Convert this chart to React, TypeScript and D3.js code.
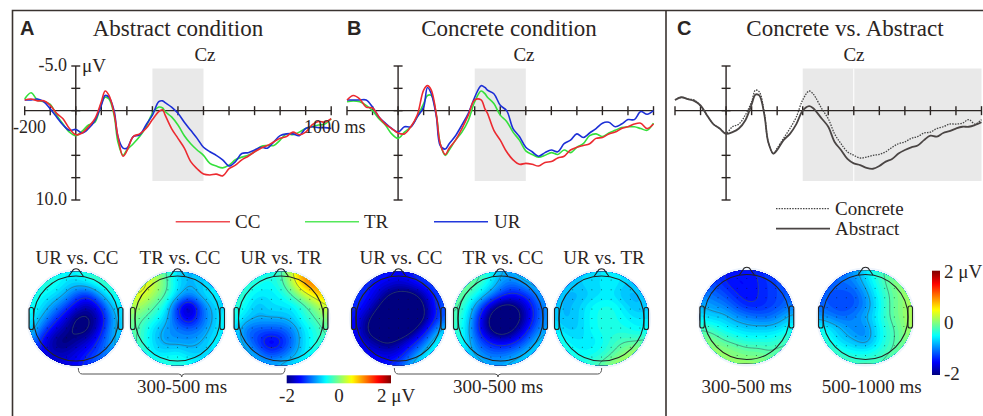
import { useMemo } from 'react';
import * as d3 from 'd3';

// time points (ms) of the Cz waveforms, denser around the early peaks
const times = [-200, -175, -150, -125, -100, -75, -50, -25, 0, 25, 50, 75, 100, 115, 130, 150, 165, 185, 200, 225, 250, 275, 300, 325, 340, 350, 375, 400, 425, 450, 475, 500, 525, 550, 575, 600, 625, 650, 675, 700, 725, 750, 775, 800, 825, 850, 875, 900, 925, 950, 975, 1000];

const abstractCC = [-1.2, -1.3, -1.1, -1.1, -0.6, 0.3, 0.9, 2.0, 2.7, 2.5, 1.8, 0.9, -1.0, -2.2, -1.7, 0.3, 2.9, 5.1, 4.5, 2.9, 2.6, 2.0, 1.0, 0.1, -0.1, 0.5, 2.0, 3.1, 4.2, 5.7, 6.5, 7.1, 7.2, 7.1, 7.3, 6.5, 6.1, 5.5, 5.1, 4.6, 4.2, 3.9, 3.5, 3.1, 2.9, 2.4, 2.7, 2.4, 1.6, 1.2, 1.3, 0.9];
const abstractTR = [-1.3, -2.0, -1.2, -1.0, -0.7, 0.5, 1.5, 2.4, 2.8, 2.3, 1.6, 1.3, -0.8, -1.5, -1.3, 0.5, 3.5, 5.0, 4.4, 3.7, 2.9, 1.8, 0.3, -0.4, -0.3, 0.1, 0.7, 1.6, 2.8, 3.7, 4.4, 5.0, 5.9, 6.2, 6.4, 6.1, 5.5, 5.2, 5.0, 4.6, 4.0, 3.9, 3.9, 3.3, 2.6, 2.7, 2.4, 2.0, 1.8, 1.6, 1.5, 0.9];
const abstractUR = [-1.2, -1.2, -1.3, -1.0, -0.2, 0.7, 1.6, 2.2, 2.1, 2.5, 2.0, 1.1, -0.6, -1.7, -1.5, 0, 2.9, 4.2, 4.2, 2.9, 2.7, 1.6, 0.5, -1.0, -1.1, -0.9, -0.4, 0.3, 1.3, 2.2, 3.1, 4.1, 4.6, 5.0, 5.5, 6.2, 5.7, 4.8, 4.7, 4.4, 4.1, 4.2, 3.5, 2.8, 2.6, 2.6, 2.8, 2.0, 1.8, 1.9, 1.9, 2.0];

const concreteCC = [-1.2, -1.7, -1.3, -0.4, -0.3, 0.7, 1.5, 2.0, 2.5, 2.6, 1.8, 0.5, -2.3, -2.8, -2.3, 0.5, 3.7, 4.9, 4.2, 3.3, 2.0, 0.5, -1.2, -1.2, -0.2, 0.3, 2.2, 3.3, 4.6, 5.5, 6.0, 5.9, 6.0, 6.2, 5.8, 5.7, 5.3, 5.1, 4.4, 4.1, 3.9, 3.7, 3.1, 3.0, 2.6, 2.4, 2.0, 1.8, 1.5, 1.4, 2.0, 1.5];
const concreteTR = [-1.0, -1.1, -1.0, -0.6, 0, 0.9, 1.6, 2.6, 3.1, 2.4, 1.8, 0.7, -0.8, -1.7, -1.7, 0.5, 3.7, 5.0, 4.4, 3.3, 2.4, 1.1, -1.0, -2.2, -1.9, -1.5, -0.8, 0.5, 1.2, 2.4, 3.3, 4.5, 4.9, 5.2, 5.0, 4.7, 4.9, 4.4, 4.7, 4.1, 3.7, 2.8, 2.6, 2.9, 2.5, 2.2, 1.9, 1.8, 1.8, 2.0, 2.2, 1.4];
const concreteUR = [-1.2, -1.2, -1.2, -1.2, -0.4, 0.7, 1.4, 2.0, 2.4, 1.8, 1.8, 0.7, -0.4, -2.6, -1.9, 0.7, 3.9, 4.3, 3.7, 2.8, 1.6, 0.3, -1.5, -2.8, -2.6, -2.3, -1.9, -0.6, 0, 2.0, 2.9, 4.1, 4.6, 5.1, 4.7, 4.4, 4.6, 3.7, 3.3, 2.6, 3.0, 2.5, 2.0, 1.4, 1.3, 1.8, 1.5, 1.0, 1.0, 0.1, 0.4, 0];

const grandAbstract = [-1.2, -1.5, -1.3, -1.1, -0.6, 0.5, 1.5, 2.0, 2.6, 2.4, 2.0, 1.1, -0.7, -1.8, -1.7, 0.5, 3.5, 4.8, 4.4, 3.3, 2.6, 1.5, 0, -0.5, -0.3, 0, 0.9, 1.8, 3.5, 4.4, 5.4, 5.9, 6.1, 6.4, 6.5, 6.2, 5.7, 5.4, 4.8, 4.4, 4.1, 3.9, 3.3, 2.8, 2.9, 2.5, 2.3, 2.0, 1.8, 1.8, 1.6, 1.3];
const grandConcrete = [-1.2, -1.5, -1.3, -1.2, -0.5, 0.5, 1.5, 2.0, 2.5, 1.8, 1.5, 0.5, -1.0, -2.3, -2.1, 0.3, 3.5, 4.8, 4.2, 3.1, 2.0, 0.7, -1.2, -2.2, -1.9, -1.5, -0.2, 0.9, 2.6, 3.7, 4.6, 5.0, 5.3, 5.2, 5.0, 4.9, 4.6, 4.1, 3.7, 3.5, 3.1, 2.9, 2.5, 2.4, 2.0, 1.8, 1.5, 1.5, 1.4, 1.0, 1.5, 1.0];

// scalp maps: 9x9 samples in µV, rows front to back, columns left to right
const mapAbstractUrCc = [
  [-0.2, -0.2, -0.3, -0.5, -0.5, -0.3, -0.1, 0, 0],
  [-0.3, -0.3, -0.4, -0.6, -0.7, -0.6, -0.4, -0.2, -0.1],
  [-0.3, -0.5, -0.6, -0.8, -1.2, -1.4, -0.9, -0.5, -0.3],
  [-0.4, -0.6, -0.9, -1.2, -1.6, -1.9, -1.5, -0.8, -0.5],
  [-0.5, -0.8, -1.2, -1.6, -2.1, -2.1, -1.8, -1.0, -0.6],
  [-0.6, -1.1, -1.6, -1.9, -2.1, -2.1, -1.6, -0.9, -0.6],
  [-0.8, -1.5, -1.9, -2.1, -1.9, -1.7, -1.3, -0.9, -0.6],
  [-1, -1.5, -1.8, -1.8, -1.6, -1.4, -1.2, -0.9, -0.6],
  [-1, -1.4, -1.5, -1.6, -1.5, -1.3, -1, -0.8, -0.6],
];
const mapAbstractTrCc = [
  [0.4, 0.4, 0.2, -0.2, -0.7, -0.8, -0.7, -0.7, -0.7],
  [0.5, 0.5, 0.3, -0.1, -0.6, -0.8, -0.7, -0.6, -0.7],
  [0.4, 0.4, 0.1, -0.2, -0.7, -1.0, -0.7, -0.5, -0.6],
  [0.2, 0.1, -0.2, -0.5, -1.4, -2.0, -1.2, -0.7, -0.6],
  [0, -0.2, -0.4, -0.7, -1.3, -1.7, -1.2, -0.8, -0.5],
  [-0.1, -0.3, -0.7, -0.9, -1.0, -1.1, -1.0, -0.7, -0.5],
  [-0.1, -0.3, -0.7, -0.9, -0.9, -0.9, -0.8, -0.6, -0.4],
  [-0.1, -0.3, -0.6, -0.6, -0.5, -0.7, -0.7, -0.6, -0.4],
  [-0.1, -0.2, -0.3, -0.3, -0.3, -0.4, -0.5, -0.4, -0.3],
];
const mapAbstractUrTr = [
  [-0.2, -0.2, -0.3, -0.4, -0.3, 0.4, 1.1, 1.2, 1.0],
  [-0.2, -0.3, -0.4, -0.5, -0.3, 0.2, 0.9, 1.1, 1.0],
  [-0.2, -0.4, -0.6, -0.6, -0.5, -0.2, 0.2, 0.6, 0.8],
  [-0.3, -0.5, -0.8, -0.6, -0.6, -0.6, -0.3, 0, 0.4],
  [-0.4, -0.7, -0.8, -0.8, -0.8, -0.7, -0.4, -0.2, 0.1],
  [-0.6, -1.1, -1.2, -1.2, -1.2, -1.0, -0.6, -0.4, -0.1],
  [-0.5, -1.0, -1.3, -1.7, -1.5, -1.1, -0.6, -0.4, -0.2],
  [-0.4, -0.7, -1, -1.3, -1.2, -0.9, -0.6, -0.4, -0.2],
  [-0.3, -0.5, -0.7, -0.8, -0.7, -0.6, -0.4, -0.3, -0.2],
];
const mapConcreteUrCc = [
  [-1, -1.2, -1.3, -1.4, -1.5, -1.4, -1.2, -1, -1],
  [-1.1, -1.3, -1.5, -1.6, -1.7, -1.6, -1.4, -1.2, -1],
  [-1.2, -1.4, -1.6, -2.0, -2.2, -2.2, -1.9, -1.4, -1.1],
  [-1.3, -1.5, -1.9, -2.3, -2.5, -2.5, -2.2, -1.5, -1.1],
  [-1.4, -1.8, -2.2, -2.5, -2.5, -2.5, -2.2, -1.5, -1.1],
  [-1.4, -1.9, -2.3, -2.5, -2.5, -2.2, -1.7, -1.1, -0.6],
  [-1.4, -1.7, -1.9, -2.1, -1.9, -1.6, -1.2, -0.7, -0.3],
  [-1.3, -1.5, -1.6, -1.7, -1.6, -1.2, -0.8, -0.4, -0.1],
  [-1.2, -1.3, -1.4, -1.4, -1.2, -0.8, -0.4, -0.2, -0.1],
];
const mapConcreteTrCc = [
  [0.1, 0.1, -0.1, -0.4, -0.8, -0.8, -0.6, -0.3, -0.3],
  [0, 0, -0.2, -0.5, -0.9, -1.1, -0.9, -0.7, -0.5],
  [0, -0.2, -0.5, -0.9, -1.3, -1.5, -1.4, -1.1, -0.7],
  [-0.1, -0.4, -1, -1.7, -2.2, -2.2, -1.8, -1.3, -0.9],
  [-0.2, -0.5, -1.3, -2.1, -2.5, -2.4, -1.9, -1.3, -0.9],
  [-0.2, -0.6, -1.3, -2.0, -2.4, -2.1, -1.6, -1.1, -0.8],
  [-0.2, -0.6, -1.1, -1.4, -1.6, -1.5, -1.2, -0.8, -0.6],
  [-0.3, -0.6, -0.9, -1.1, -1.1, -1.0, -0.8, -0.6, -0.5],
  [-0.3, -0.5, -0.6, -0.8, -0.8, -0.7, -0.6, -0.5, -0.4],
];
const mapConcreteUrTr = [
  [-0.5, -0.6, -0.7, -0.7, -0.6, -0.5, -0.6, -0.6, -0.5],
  [-0.6, -0.7, -0.7, -0.6, -0.6, -0.5, -0.7, -0.7, -0.6],
  [-0.7, -0.8, -0.8, -0.7, -0.6, -0.6, -0.8, -0.8, -0.7],
  [-0.7, -0.8, -0.7, -0.5, -0.4, -0.4, -0.6, -0.8, -0.7],
  [-0.7, -0.8, -0.7, -0.5, -0.4, -0.4, -0.5, -0.6, -0.6],
  [-0.5, -0.7, -0.7, -0.5, -0.4, -0.4, -0.4, -0.5, -0.5],
  [-0.3, -0.5, -0.6, -0.6, -0.5, -0.3, -0.2, -0.2, -0.1],
  [-0.1, -0.4, -0.5, -0.5, -0.4, -0.2, 0, 0.2, 0.2],
  [-0.1, -0.2, -0.3, -0.3, -0.1, 0.1, 0.3, 0.3, 0.3],
];
const mapEarly = [
  [-1.1, -1.2, -1.4, -1.5, -1.4, -1.4, -1.2, -1.2, -1.1],
  [-1.1, -1.2, -1.4, -1.5, -1.5, -1.4, -1.3, -1.2, -1.1],
  [-1, -1.1, -1.2, -1.4, -1.5, -1.4, -1.3, -1.2, -1.1],
  [-0.8, -0.9, -1, -1.2, -1.4, -1.4, -1.3, -1.2, -1],
  [-0.6, -0.7, -0.7, -0.9, -1, -1.1, -1.1, -0.9, -0.7],
  [-0.2, -0.3, -0.5, -0.6, -0.7, -0.7, -0.7, -0.6, -0.4],
  [0, 0, -0.2, -0.3, -0.4, -0.4, -0.4, -0.3, -0.2],
  [0.1, 0.1, 0.1, 0, -0.1, -0.1, -0.2, -0.1, -0.1],
  [0.1, 0.1, 0.1, 0.1, 0.1, 0.1, 0, 0, 0],
];
const mapLate = [
  [-1, -1, -1, -0.9, -0.6, -0.3, -0.1, 0, 0.1],
  [-1, -1.1, -1.1, -1, -0.7, -0.4, -0.1, 0.1, 0.1],
  [-1.1, -1.2, -1.2, -1.2, -0.9, -0.5, -0.2, 0, 0.2],
  [-1.1, -1.2, -1.3, -1.2, -1.0, -0.6, -0.2, 0, 0.2],
  [-0.9, -1, -1.1, -1, -0.8, -0.5, -0.2, 0, 0.2],
  [-0.4, -0.6, -0.8, -1, -1, -0.6, -0.3, -0.1, 0.2],
  [-0.2, -0.5, -0.7, -0.8, -1, -0.6, -0.3, -0.1, 0.1],
  [0, -0.2, -0.4, -0.5, -0.5, -0.4, -0.2, -0.1, 0],
  [0.1, 0, -0.1, -0.2, -0.2, -0.2, -0.1, 0, 0],
];

const xTicks = d3.range(-200, 1001, 100);
const yTicks = [-5, -2.5, 0, 5, 7.5, 10];
const ink = '#2b2523';
const serif = '"Liberation Serif", serif';

const color = d3.scaleLinear<string>()
  .domain([-2, -1.5, -0.5, 0.5, 1.5, 2])
  .range(['#00007f', '#0000ff', '#00ffff', '#ffff00', '#ff0000', '#7f0000'])
  .clamp(true);

const Label = ({ x, y, anchor = 'start', size = 19, children }: any) => (
  <text x={x} y={y} textAnchor={anchor} fontFamily={serif} fontSize={size} fill={ink}>{children}</text>
);

const PanelLetter = ({ x, children }: any) => (
  <text x={x} y={35} fontFamily='"Liberation Sans", sans-serif' fontWeight="bold" fontSize={20} fill={ink}>{children}</text>
);

// one Cz plot: shaded window(s), axes and the waveforms
const Erp = ({ left, windows, series }: any) => {
  const x = d3.scaleLinear().domain([-200, 1000]).range([left, left + 306.5]);
  const y = d3.scaleLinear().domain([-5, 10]).range([66, 200]);
  const line = d3.line<number>()
    .x((_, i) => x(times[i]))
    .y(d => y(d))
    .curve(d3.curveCatmullRom);
  return (
    <g>
      {windows.map(([a, b]: number[]) => (
        <rect key={a} x={x(a)} y={68.5} width={Math.min(x(b), 982.5) - x(a)} height={112.5} fill="#e9e9e9" />
      ))}
      {windows.length > 1 && <line x1={x(500)} x2={x(500)} y1={68.5} y2={181} stroke="#fff" strokeWidth={1} />}
      <g stroke={ink} strokeWidth={1.4}>
        <line x1={x(-200)} x2={x(1000)} y1={y(0)} y2={y(0)} />
        {xTicks.map(t => <line key={t} x1={x(t)} x2={x(t)} y1={y(0) - 4.5} y2={y(0) + 4.5} />)}
        <line x1={x(0)} x2={x(0)} y1={y(-5)} y2={y(10)} />
        {yTicks.map(v => <line key={v} x1={x(0) - 4.5} x2={x(0) + 4.5} y1={y(v)} y2={y(v)} />)}
      </g>
      {series.map((s: any) => (
        <path key={s.name} d={line(s.values) as string} fill="none" stroke={s.color} strokeWidth={s.width}
          strokeDasharray={s.dash} strokeLinejoin="round" />
      ))}
    </g>
  );
};

// scalp map: upsampled samples filled band by band with d3.contours
const Topomap = ({ cx, cy, grid, id }: any) => {
  const r = 47;
  const { bands, lines, project } = useMemo(() => {
    const n = 72;
    const m = grid.length - 1;
    const data = new Float64Array(n * n);
    for (let j = 0; j < n; j++) {
      for (let i = 0; i < n; i++) {
        const gx = (i / (n - 1)) * m;
        const gy = (j / (n - 1)) * m;
        const x0 = Math.min(Math.floor(gx), m - 1);
        const y0 = Math.min(Math.floor(gy), m - 1);
        const fx = gx - x0;
        const fy = gy - y0;
        data[j * n + i] = (grid[y0][x0] * (1 - fx) + grid[y0][x0 + 1] * fx) * (1 - fy)
          + (grid[y0 + 1][x0] * (1 - fx) + grid[y0 + 1][x0 + 1] * fx) * fy;
      }
    }
    d3.blur2({ data, width: n, height: n }, 3);
    const gen = d3.contours().size([n, n]);
    return {
      bands: gen.thresholds(d3.range(-2.6, 2.3, 0.08))(data as any),
      lines: gen.thresholds([-2, -1.4, -0.8, -0.2, 0.4])(data as any),
      project: d3.geoPath(d3.geoIdentity().scale((2 * r) / n).translate([cx - r, cy - r]) as any),
    };
  }, [grid, cx, cy]);
  const dots = d3.cross(d3.range(-4, 5), d3.range(-4, 5))
    .filter(([a, b]) => Math.hypot(a, b) < 4.3);
  const R = 42.5;
  return (
    <g>
      <circle cx={cx} cy={cy} r={49.5} fill="#eef4fc" />
      <clipPath id={id}><circle cx={cx} cy={cy} r={r} /></clipPath>
      <g clipPath={`url(#${id})`}>
        <rect x={cx - r} y={cy - r} width={2 * r} height={2 * r} fill={color(-2.6)} />
        {bands.map((b: any) => <path key={b.value} d={project(b) as string} fill={color(b.value + 0.04)} />)}
        {lines.map((b: any) => <path key={b.value} d={project(b) as string} fill="none" stroke="#3f5a60" strokeWidth={0.7} strokeOpacity={0.8} />)}
      </g>
      {dots.map(([a, b]) => <circle key={`${a}_${b}`} cx={cx + a * 9.6} cy={cy + b * 9.6} r={0.5} fill="#111" fillOpacity={0.7} />)}
      <g fill="none" stroke="#222" strokeWidth={1.1}>
        <circle cx={cx} cy={cy} r={R} />
        <path d={`M${cx - 7.5},${cy - R + 0.5} L${cx - 2.5},${cy - R - 6.5} Q${cx},${cy - R - 8} ${cx + 2.5},${cy - R - 6.5} L${cx + 7.5},${cy - R + 0.5}`} />
        <rect x={cx - R - 4.5} y={cy - 11} width={4.5} height={22} rx={2} />
        <rect x={cx + R} y={cy - 11} width={4.5} height={22} rx={2} />
      </g>
    </g>
  );
};

const Brace = ({ x1, x2, xm, y }: any) => (
  <path d={`M${x1},${y} Q${x1},${y + 6} ${x1 + 4},${y + 6} L${xm - 3},${y + 6} Q${xm},${y + 6} ${xm},${y + 9} Q${xm},${y + 6} ${xm + 3},${y + 6} L${x2 - 4},${y + 6} Q${x2},${y + 6} ${x2},${y}`}
    fill="none" stroke="#555" strokeWidth={1} />
);

const App = () => {
  const stops = d3.range(0, 1.001, 0.02);
  return (
    <svg width={983} height={416} style={{ position: 'absolute', left: 0, top: 0, background: '#fff' }}>
      <defs>
        <linearGradient id="barH" x1="0" x2="1" y1="0" y2="0">
          {stops.map(s => <stop key={s} offset={s} stopColor={color(-2 + 4 * s)} />)}
        </linearGradient>
        <linearGradient id="barV" x1="0" x2="0" y1="1" y2="0">
          {stops.map(s => <stop key={s} offset={s} stopColor={color(-2 + 4 * s)} />)}
        </linearGradient>
      </defs>

      <path d="M12.5,416 V10.5 H983 M666,10.5 V416" fill="none" stroke="#3a3330" strokeWidth={1.6} />

      <PanelLetter x={20}>A</PanelLetter>
      <PanelLetter x={347}>B</PanelLetter>
      <PanelLetter x={677}>C</PanelLetter>
      <Label x={178} y={36} anchor="middle" size={23}>Abstract condition</Label>
      <Label x={509} y={36} anchor="middle" size={23}>Concrete condition</Label>
      <Label x={845} y={36} anchor="middle" size={23}>Concrete vs. Abstract</Label>
      <Label x={205} y={61} anchor="middle">Cz</Label>
      <Label x={524} y={61} anchor="middle">Cz</Label>
      <Label x={854} y={61} anchor="middle">Cz</Label>

      <Erp left={24.7} windows={[[300, 500]]} series={[
        { name: 'TR', values: abstractTR, color: '#35e03c', width: 1.6 },
        { name: 'UR', values: abstractUR, color: '#1c2fd6', width: 1.6 },
        { name: 'CC', values: abstractCC, color: '#ec2a30', width: 1.6 },
      ]} />
      <Erp left={347} windows={[[300, 500]]} series={[
        { name: 'TR', values: concreteTR, color: '#35e03c', width: 1.6 },
        { name: 'UR', values: concreteUR, color: '#1c2fd6', width: 1.6 },
        { name: 'CC', values: concreteCC, color: '#ec2a30', width: 1.6 },
      ]} />
      <Erp left={675} windows={[[300, 500], [500, 1000]]} series={[
        { name: 'Concrete', values: grandConcrete, color: '#444', width: 1.3, dash: '1.5 1.2' },
        { name: 'Abstract', values: grandAbstract, color: '#4a4544', width: 1.8 },
      ]} />

      <Label x={67} y={71} anchor="end" size={18}>-5.0</Label>
      <Label x={82} y={72}>μV</Label>
      <Label x={13} y={133} size={18}>-200</Label>
      <Label x={304} y={133} size={18}>1000 ms</Label>
      <Label x={67} y={205} anchor="end" size={18}>10.0</Label>

      <line x1={175.7} x2={230} y1={221.7} y2={221.7} stroke="#ef4a50" strokeWidth={1.5} />
      <Label x={235} y={228}>CC</Label>
      <line x1={305} x2={359} y1={221.7} y2={221.7} stroke="#55e85a" strokeWidth={1.5} />
      <Label x={364} y={228}>TR</Label>
      <line x1={434} x2={488} y1={221.7} y2={221.7} stroke="#2238dc" strokeWidth={1.5} />
      <Label x={494} y={228}>UR</Label>

      <line x1={776} x2={830} y1={208.7} y2={208.7} stroke="#444" strokeWidth={1.3} strokeDasharray="1.5 1.2" />
      <Label x={835} y={215}>Concrete</Label>
      <line x1={776} x2={830} y1={228.7} y2={228.7} stroke="#4a4544" strokeWidth={1.8} />
      <Label x={835} y={235}>Abstract</Label>

      <Label x={77} y={264} anchor="middle">UR vs. CC</Label>
      <Label x={180} y={264} anchor="middle">TR vs. CC</Label>
      <Label x={281} y={264} anchor="middle">UR vs. TR</Label>
      <Label x={401} y={264} anchor="middle">UR vs. CC</Label>
      <Label x={503} y={264} anchor="middle">TR vs. CC</Label>
      <Label x={604} y={264} anchor="middle">UR vs. TR</Label>

      <Topomap id="m1" cx={76} cy={318.5} grid={mapAbstractUrCc} />
      <Topomap id="m2" cx={177.5} cy={318.5} grid={mapAbstractTrCc} />
      <Topomap id="m3" cx={281} cy={318.5} grid={mapAbstractUrTr} />
      <Topomap id="m4" cx={398.5} cy={318.5} grid={mapConcreteUrCc} />
      <Topomap id="m5" cx={500.5} cy={318.5} grid={mapConcreteTrCc} />
      <Topomap id="m6" cx={601.5} cy={318.5} grid={mapConcreteUrTr} />
      <Topomap id="m7" cx={746.8} cy={317} grid={mapEarly} />
      <Topomap id="m8" cx={865.5} cy={317} grid={mapLate} />

      <Brace x1={78.3} x2={285} xm={181.7} y={368} />
      <Label x={182} y={393} anchor="middle">300-500 ms</Label>
      <Brace x1={394.3} x2={601.7} xm={498} y={368} />
      <Label x={498} y={393} anchor="middle">300-500 ms</Label>
      <Label x={746.7} y={393} anchor="middle">300-500 ms</Label>
      <Label x={871.7} y={393} anchor="middle">500-1000 ms</Label>

      <rect x={286.7} y={375.3} width={104.3} height={8} fill="url(#barH)" />
      <Label x={287} y={402} anchor="middle">-2</Label>
      <Label x={339} y={402} anchor="middle">0</Label>
      <Label x={377} y={402}>2 μV</Label>

      <rect x={932} y={270.7} width={8} height={104.3} fill="url(#barV)" />
      <Label x={944} y={278}>2 μV</Label>
      <Label x={944} y={329}>0</Label>
      <Label x={944} y={380}>-2</Label>
    </svg>
  );
};

export default App;
